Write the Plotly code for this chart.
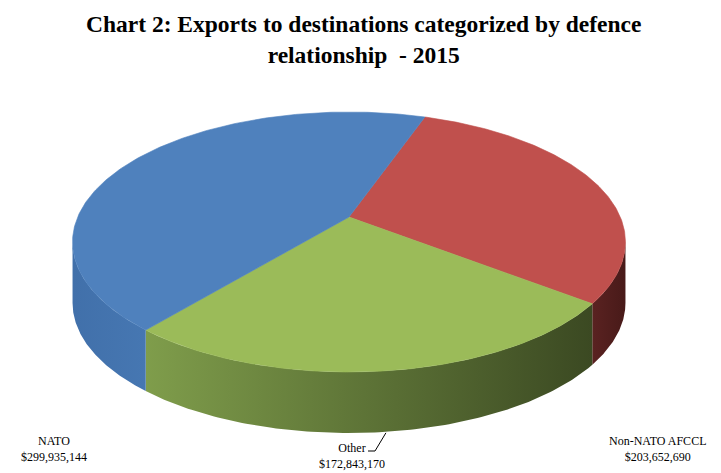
import numpy as np
import plotly.graph_objects as go

# ---- data ----
categories = ["Non-NATO AFCCL", "Other", "NATO"]
values = [203652690, 172843170, 299935144]
value_labels = ["$203,652,690", "$172,843,170", "$299,935,144"]
title_text = "Chart 2: Exports to destinations categorized by defence<br>relationship  - 2015"

# ---- styles ----
top_colors = ["#C0504D", "#9BBB59", "#4F81BD"]
side_scales = [
    [[0, "#5a2221"], [1, "#481a19"]],
    [[0, "#7f9d4b"], [1, "#3b4922"]],
    [[0, "#4170aa"], [1, "#4677b2"]],
]

W, H = 721, 473
# 3D pie projection parameters (perspective-tilted circle)
CX, R = 349.0, 271.3
PA, PB, PC = 83.46, 217.0, -0.1923
DEPTH = 61.0
START = 19.3  # first slice angle, degrees clockwise from 12 o'clock


def proj(theta_deg, r=1.0, drop=0.0):
    t = np.radians(theta_deg)
    u = r * np.sin(t)
    v = -r * np.cos(t)
    d = 1 + PC * v
    return CX + R * u / d, (PA * v + PB) / d + drop


total = float(sum(values))
angles = [START]
for val in values:
    angles.append(angles[-1] + 360.0 * val / total)

# silhouette (visible front wall) limits
v_sil = -PC
sil_r = np.degrees(np.arccos(-v_sil))
sil_l = 360 - sil_r

fig = go.Figure()

# walls
for i in range(len(values)):
    a1, a2 = angles[i], angles[i + 1]
    lo, hi = max(a1, sil_r), min(a2, sil_l)
    if hi <= lo:
        continue
    th = np.linspace(lo, hi, 120)
    xt, yt = proj(th)
    xb, yb = proj(th[::-1], drop=DEPTH)
    xs = np.concatenate([xt, xb, xt[:1]])
    ys = np.concatenate([yt, yb, yt[:1]])
    fig.add_trace(go.Scatter(
        x=xs, y=ys, mode="lines", fill="toself",
        line=dict(width=0), fillgradient=dict(type="horizontal", colorscale=side_scales[i]),
        hoverinfo="skip", showlegend=False))

# top faces
for i in range(len(values)):
    a1, a2 = angles[i], angles[i + 1]
    th = np.linspace(a1, a2, 200)
    xa, ya = proj(th)
    cx0, cy0 = proj(0.0, r=0.0)
    xs = np.concatenate([[cx0], xa, [cx0]])
    ys = np.concatenate([[cy0], ya, [cy0]])
    fig.add_trace(go.Scatter(
        x=xs, y=ys, mode="lines", fill="toself",
        line=dict(width=0.6, color=top_colors[i]), fillcolor=top_colors[i],
        hoverinfo="skip", showlegend=False, name=categories[i]))

# labels
label_font = dict(family="Liberation Serif, Times New Roman, serif", size=12, color="#000000")
label_pos = {"NATO": (54, 449), "Non-NATO AFCCL": (657, 449), "Other": (352, 456)}
for cat, lab in zip(categories, value_labels):
    lx, ly = label_pos[cat]
    fig.add_annotation(x=lx, y=ly, xref="x", yref="y", text=f"{cat}<br>{lab}",
                       showarrow=False, font=label_font, align="center",
                       xanchor="center", yanchor="middle")

# leader line for "Other" to the middle of its slice wall
i_other = categories.index("Other")
mid = (angles[i_other] + angles[i_other + 1]) / 2
mx, my = proj(mid, drop=DEPTH)
fig.add_trace(go.Scatter(x=[368, 375, mx], y=[451, 451, my + 1], mode="lines",
                         line=dict(color="#000000", width=1), hoverinfo="skip", showlegend=False))

fig.add_annotation(x=363.5, y=39, xref="x", yref="y", text=f"<b>{title_text}</b>",
                   showarrow=False, align="center", xanchor="center", yanchor="middle",
                   font=dict(family="Liberation Serif, Times New Roman, serif", size=23.5, color="#000000"))

fig.update_layout(
    width=W, height=H, autosize=False,
    margin=dict(l=0, r=0, t=0, b=0),
    paper_bgcolor="#FFFFFF", plot_bgcolor="#FFFFFF",
    xaxis=dict(range=[0, W], visible=False, fixedrange=True),
    yaxis=dict(range=[H, 0], visible=False, fixedrange=True),
    showlegend=False,
)

fig.write_html("out.html", config={"displayModeBar": False},
               post_script="document.body.style.margin='0px';document.body.style.overflow='hidden';")
